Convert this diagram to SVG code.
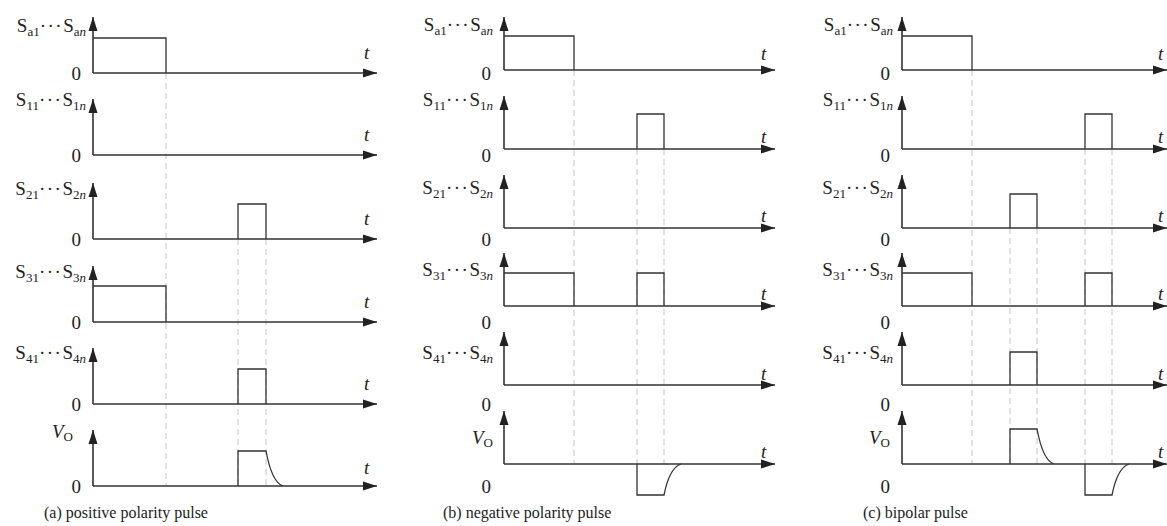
<svg xmlns="http://www.w3.org/2000/svg" width="1167" height="526" viewBox="0 0 1167 526">
<style>
text{font-family:"Liberation Serif","Times New Roman",serif;fill:#222}
.lab{font-size:19px}
.sub{font-size:13px}
.dots{letter-spacing:1.5px}
.it{font-style:italic}
.t{font-size:19px;font-style:italic}
.z{font-size:19px;text-anchor:end}
.cap{font-size:16px}
.axy{stroke:#333;stroke-width:1.6;fill:none;marker-end:url(#ah)}
.axx{stroke:#333;stroke-width:1.6;fill:none;marker-end:url(#ah)}
.w{stroke:#333;stroke-width:1.3;fill:none}
.d{stroke:#c4c4c4;stroke-width:1;stroke-dasharray:6 4;fill:none}
</style>
<defs>
<marker id="ah" markerUnits="userSpaceOnUse" markerWidth="15" markerHeight="10" refX="14" refY="4.5" orient="auto" viewBox="0 0 15 9">
<path d="M0,0 L14,4.5 L0,9 z" fill="#222"/>
</marker>
</defs>

<g id="connectors">
<path class="d" d="M166,73 V486 M238,239 V486 M266,239 V486"/>
<path class="d" d="M574,70 V464 M637,149 V464 M664,149 V464"/>
<path class="d" d="M972,70 V464 M1010,228 V464 M1037,228 V464 M1085,149 V464 M1112,149 V464"/>
</g>

<g id="panel-a">
<g id="a-row1">
<path class="axy" d="M93,73 V17"/><path class="axx" d="M93,73 H377"/>
<path class="w" d="M93,38 H166 V73"/>
<text class="lab" x="86" y="32" text-anchor="end">S<tspan class="sub" dy="4">a1</tspan><tspan class="dots" dy="-4">···</tspan>S<tspan class="sub" dy="4">a<tspan class="it">n</tspan></tspan></text>
<text class="z" x="81" y="80">0</text><text class="t" x="364" y="59">t</text>
</g>
<g id="a-row2">
<path class="axy" d="M93,155 V99"/><path class="axx" d="M93,155 H377"/>
<text class="lab" x="86" y="106" text-anchor="end">S<tspan class="sub" dy="4">11</tspan><tspan class="dots" dy="-4">···</tspan>S<tspan class="sub" dy="4">1<tspan class="it">n</tspan></tspan></text>
<text class="z" x="81" y="162">0</text><text class="t" x="364" y="141">t</text>
</g>
<g id="a-row3">
<path class="axy" d="M93,239 V183"/><path class="axx" d="M93,239 H377"/>
<path class="w" d="M238,239 V204 H266 V239"/>
<text class="lab" x="86" y="195" text-anchor="end">S<tspan class="sub" dy="4">21</tspan><tspan class="dots" dy="-4">···</tspan>S<tspan class="sub" dy="4">2<tspan class="it">n</tspan></tspan></text>
<text class="z" x="81" y="246">0</text><text class="t" x="364" y="225">t</text>
</g>
<g id="a-row4">
<path class="axy" d="M93,322 V266"/><path class="axx" d="M93,322 H377"/>
<path class="w" d="M93,286 H166 V322"/>
<text class="lab" x="86" y="278" text-anchor="end">S<tspan class="sub" dy="4">31</tspan><tspan class="dots" dy="-4">···</tspan>S<tspan class="sub" dy="4">3<tspan class="it">n</tspan></tspan></text>
<text class="z" x="81" y="329">0</text><text class="t" x="364" y="308">t</text>
</g>
<g id="a-row5">
<path class="axy" d="M93,404 V348"/><path class="axx" d="M93,404 H377"/>
<path class="w" d="M238,404 V369 H266 V404"/>
<text class="lab" x="86" y="359" text-anchor="end">S<tspan class="sub" dy="4">41</tspan><tspan class="dots" dy="-4">···</tspan>S<tspan class="sub" dy="4">4<tspan class="it">n</tspan></tspan></text>
<text class="z" x="81" y="411">0</text><text class="t" x="364" y="390">t</text>
</g>
<g id="a-row6">
<path class="axy" d="M93,486 V430"/><path class="axx" d="M93,486 H377"/>
<path class="w" d="M238,486 V451 H266 C269,467 274,483 283,486"/>
<text class="lab" x="73" y="438" text-anchor="end"><tspan class="it">V</tspan><tspan class="sub" dy="3">O</tspan></text>
<text class="z" x="81" y="493">0</text><text class="t" x="364" y="474">t</text>
</g>
<text class="cap" x="44" y="518">(a) positive polarity pulse</text>
</g>

<g id="panel-b">
<g id="b-row1">
<path class="axy" d="M504,70 V17"/><path class="axx" d="M504,70 H775"/>
<path class="w" d="M504,36 H574 V70"/>
<text class="lab" x="493" y="31" text-anchor="end">S<tspan class="sub" dy="4">a1</tspan><tspan class="dots" dy="-4">···</tspan>S<tspan class="sub" dy="4">a<tspan class="it">n</tspan></tspan></text>
<text class="z" x="491" y="80">0</text><text class="t" x="761" y="60">t</text>
</g>
<g id="b-row2">
<path class="axy" d="M504,149 V96"/><path class="axx" d="M504,149 H775"/>
<path class="w" d="M637,149 V114 H664 V149"/>
<text class="lab" x="493" y="106" text-anchor="end">S<tspan class="sub" dy="4">11</tspan><tspan class="dots" dy="-4">···</tspan>S<tspan class="sub" dy="4">1<tspan class="it">n</tspan></tspan></text>
<text class="z" x="491" y="162">0</text><text class="t" x="761" y="143">t</text>
</g>
<g id="b-row3">
<path class="axy" d="M504,228 V175"/><path class="axx" d="M504,228 H775"/>
<text class="lab" x="493" y="194" text-anchor="end">S<tspan class="sub" dy="4">21</tspan><tspan class="dots" dy="-4">···</tspan>S<tspan class="sub" dy="4">2<tspan class="it">n</tspan></tspan></text>
<text class="z" x="491" y="246">0</text><text class="t" x="761" y="222">t</text>
</g>
<g id="b-row4">
<path class="axy" d="M504,306 V253"/><path class="axx" d="M504,306 H775"/>
<path class="w" d="M504,273 H574 V306 M637,306 V273 H664 V306"/>
<text class="lab" x="493" y="276" text-anchor="end">S<tspan class="sub" dy="4">31</tspan><tspan class="dots" dy="-4">···</tspan>S<tspan class="sub" dy="4">3<tspan class="it">n</tspan></tspan></text>
<text class="z" x="491" y="329">0</text><text class="t" x="761" y="300">t</text>
</g>
<g id="b-row5">
<path class="axy" d="M504,385 V332"/><path class="axx" d="M504,385 H775"/>
<text class="lab" x="493" y="359" text-anchor="end">S<tspan class="sub" dy="4">41</tspan><tspan class="dots" dy="-4">···</tspan>S<tspan class="sub" dy="4">4<tspan class="it">n</tspan></tspan></text>
<text class="z" x="491" y="411">0</text><text class="t" x="761" y="380">t</text>
</g>
<g id="b-row6">
<path class="axy" d="M504,464 V411"/><path class="axx" d="M504,464 H775"/>
<path class="w" d="M637,464 V495 H664 C667,480 672,467 681,464"/>
<text class="lab" x="493" y="444" text-anchor="end"><tspan class="it">V</tspan><tspan class="sub" dy="3">O</tspan></text>
<text class="z" x="491" y="493">0</text><text class="t" x="761" y="458">t</text>
</g>
<text class="cap" x="443" y="518">(b) negative polarity pulse</text>
</g>

<g id="panel-c">
<g id="c-row1">
<path class="axy" d="M902,70 V17"/><path class="axx" d="M902,70 H1167"/>
<path class="w" d="M902,36 H972 V70"/>
<text class="lab" x="893" y="31" text-anchor="end">S<tspan class="sub" dy="4">a1</tspan><tspan class="dots" dy="-4">···</tspan>S<tspan class="sub" dy="4">a<tspan class="it">n</tspan></tspan></text>
<text class="z" x="890" y="80">0</text><text class="t" x="1158" y="60">t</text>
</g>
<g id="c-row2">
<path class="axy" d="M902,149 V96"/><path class="axx" d="M902,149 H1167"/>
<path class="w" d="M1085,149 V114 H1112 V149"/>
<text class="lab" x="893" y="106" text-anchor="end">S<tspan class="sub" dy="4">11</tspan><tspan class="dots" dy="-4">···</tspan>S<tspan class="sub" dy="4">1<tspan class="it">n</tspan></tspan></text>
<text class="z" x="890" y="162">0</text><text class="t" x="1158" y="143">t</text>
</g>
<g id="c-row3">
<path class="axy" d="M902,228 V175"/><path class="axx" d="M902,228 H1167"/>
<path class="w" d="M1010,228 V194 H1037 V228"/>
<text class="lab" x="893" y="194" text-anchor="end">S<tspan class="sub" dy="4">21</tspan><tspan class="dots" dy="-4">···</tspan>S<tspan class="sub" dy="4">2<tspan class="it">n</tspan></tspan></text>
<text class="z" x="890" y="246">0</text><text class="t" x="1158" y="222">t</text>
</g>
<g id="c-row4">
<path class="axy" d="M902,306 V253"/><path class="axx" d="M902,306 H1167"/>
<path class="w" d="M902,273 H972 V306 M1085,306 V273 H1112 V306"/>
<text class="lab" x="893" y="276" text-anchor="end">S<tspan class="sub" dy="4">31</tspan><tspan class="dots" dy="-4">···</tspan>S<tspan class="sub" dy="4">3<tspan class="it">n</tspan></tspan></text>
<text class="z" x="890" y="329">0</text><text class="t" x="1158" y="300">t</text>
</g>
<g id="c-row5">
<path class="axy" d="M902,385 V332"/><path class="axx" d="M902,385 H1167"/>
<path class="w" d="M1010,385 V352 H1037 V385"/>
<text class="lab" x="893" y="359" text-anchor="end">S<tspan class="sub" dy="4">41</tspan><tspan class="dots" dy="-4">···</tspan>S<tspan class="sub" dy="4">4<tspan class="it">n</tspan></tspan></text>
<text class="z" x="890" y="411">0</text><text class="t" x="1158" y="380">t</text>
</g>
<g id="c-row6">
<path class="axy" d="M902,464 V411"/><path class="axx" d="M902,464 H1167"/>
<path class="w" d="M1010,464 V429 H1037 C1040,445 1045,461 1054,464 M1085,464 V495 H1112 C1115,480 1120,467 1129,464"/>
<text class="lab" x="890" y="444" text-anchor="end"><tspan class="it">V</tspan><tspan class="sub" dy="3">O</tspan></text>
<text class="z" x="890" y="493">0</text><text class="t" x="1158" y="458">t</text>
</g>
<text class="cap" x="863" y="518">(c) bipolar pulse</text>
</g>
</svg>
